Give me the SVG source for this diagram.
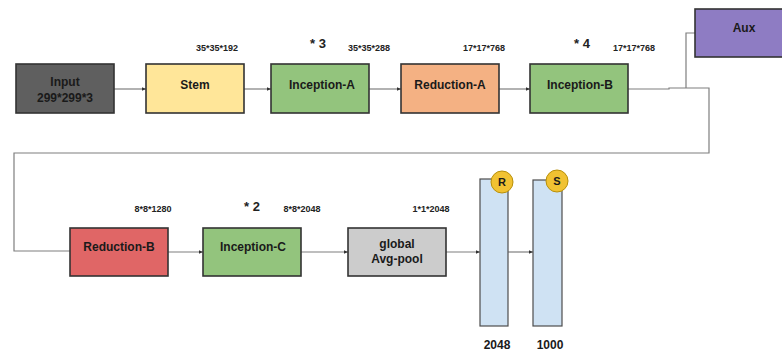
<svg xmlns="http://www.w3.org/2000/svg" width="782" height="352" viewBox="0 0 782 352">
<defs>
<marker id="arr" markerWidth="5" markerHeight="5" refX="4.5" refY="2.5" orient="auto" markerUnits="userSpaceOnUse">
<path d="M0,0.5 L4.5,2.5 L0,4.5 z" fill="#333"/>
</marker>
<style>
.box{stroke:#333;stroke-width:1.6}
.t{font-family:"Liberation Sans",Arial,sans-serif;font-weight:bold;font-size:12px;fill:#1a1a1a;text-anchor:middle}
.s{font-family:"Liberation Sans",Arial,sans-serif;font-weight:bold;font-size:9px;fill:#222;text-anchor:middle}
.m{font-family:"Liberation Sans",Arial,sans-serif;font-weight:bold;font-size:13px;fill:#222;text-anchor:middle}
.c{fill:none;stroke:#7f7f7f;stroke-width:1.2}
.bar{fill:#cfe2f3;stroke:#4d4d4d;stroke-width:1.2}
.circ{fill:#f1c232;stroke:#b8900a;stroke-width:1}
</style>
</defs>
<rect width="782" height="352" fill="#fff"/>

<g id="connectors">
<line class="c" x1="114" y1="89" x2="146" y2="89" marker-end="url(#arr)"/>
<line class="c" x1="244" y1="89" x2="271" y2="89" marker-end="url(#arr)"/>
<line class="c" x1="369" y1="89" x2="401" y2="89" marker-end="url(#arr)"/>
<line class="c" x1="499" y1="89" x2="530" y2="89" marker-end="url(#arr)"/>
<polyline class="c" points="628,89 669,89 669,88 709,88 709,153 14,153 14,251 70,251"/>
<polyline class="c" points="686,88 686,33 695,33"/>
<line class="c" x1="168" y1="252" x2="203" y2="252" marker-end="url(#arr)"/>
<line class="c" x1="301" y1="252" x2="348" y2="252" marker-end="url(#arr)"/>
<line class="c" x1="446" y1="252" x2="480" y2="252" marker-end="url(#arr)"/>
<line class="c" x1="508" y1="252" x2="533" y2="252" marker-end="url(#arr)"/>
</g>

<g id="input"><rect class="box" x="16" y="64" width="98" height="49" fill="#5f5f5f"/>
<text class="t" x="65" y="86">Input</text><text class="t" x="65" y="102">299*299*3</text></g>

<g id="stem"><rect class="box" x="146" y="64" width="98" height="49" fill="#ffe699"/>
<text class="t" x="195" y="89">Stem</text></g>

<g id="inception-a"><rect class="box" x="271" y="64" width="98" height="49" fill="#93c47d"/>
<text class="t" x="322" y="89">Inception-A</text></g>

<g id="reduction-a"><rect class="box" x="401" y="64" width="98" height="49" fill="#f4b183"/>
<text class="t" x="450" y="89">Reduction-A</text></g>

<g id="inception-b"><rect class="box" x="530" y="64" width="98" height="49" fill="#93c47d"/>
<text class="t" x="580" y="89">Inception-B</text></g>

<g id="aux"><rect class="box" x="695" y="9" width="92" height="48" fill="#8e7cc3"/>
<text class="t" x="744" y="32">Aux</text></g>

<g id="reduction-b"><rect class="box" x="70" y="228" width="98" height="48" fill="#e06666"/>
<text class="t" x="119" y="251">Reduction-B</text></g>

<g id="inception-c"><rect class="box" x="203" y="228" width="98" height="48" fill="#93c47d"/>
<text class="t" x="253" y="251">Inception-C</text></g>

<g id="global-avg-pool"><rect class="box" x="348" y="228" width="98" height="48" fill="#cccccc"/>
<text class="t" x="397" y="248">global</text><text class="t" x="397" y="263">Avg-pool</text></g>

<g id="fc-2048"><rect class="bar" x="480" y="179" width="28" height="147"/>
<circle class="circ" cx="502" cy="182" r="11"/>
<text class="t" x="502" y="186" style="font-size:11px">R</text>
<text class="t" x="497" y="349">2048</text></g>

<g id="fc-1000"><rect class="bar" x="533" y="180" width="29" height="146"/>
<circle class="circ" cx="557" cy="181" r="11"/>
<text class="t" x="557" y="185" style="font-size:11px">S</text>
<text class="t" x="550" y="349">1000</text></g>

<g id="labels">
<text class="s" x="217" y="51">35*35*192</text>
<text class="m" x="318" y="48">* 3</text>
<text class="s" x="369" y="51">35*35*288</text>
<text class="s" x="484" y="51">17*17*768</text>
<text class="m" x="582" y="48">* 4</text>
<text class="s" x="634" y="51">17*17*768</text>
<text class="s" x="153" y="212">8*8*1280</text>
<text class="m" x="252" y="211">* 2</text>
<text class="s" x="302" y="212">8*8*2048</text>
<text class="s" x="431" y="212">1*1*2048</text>
</g>
</svg>
